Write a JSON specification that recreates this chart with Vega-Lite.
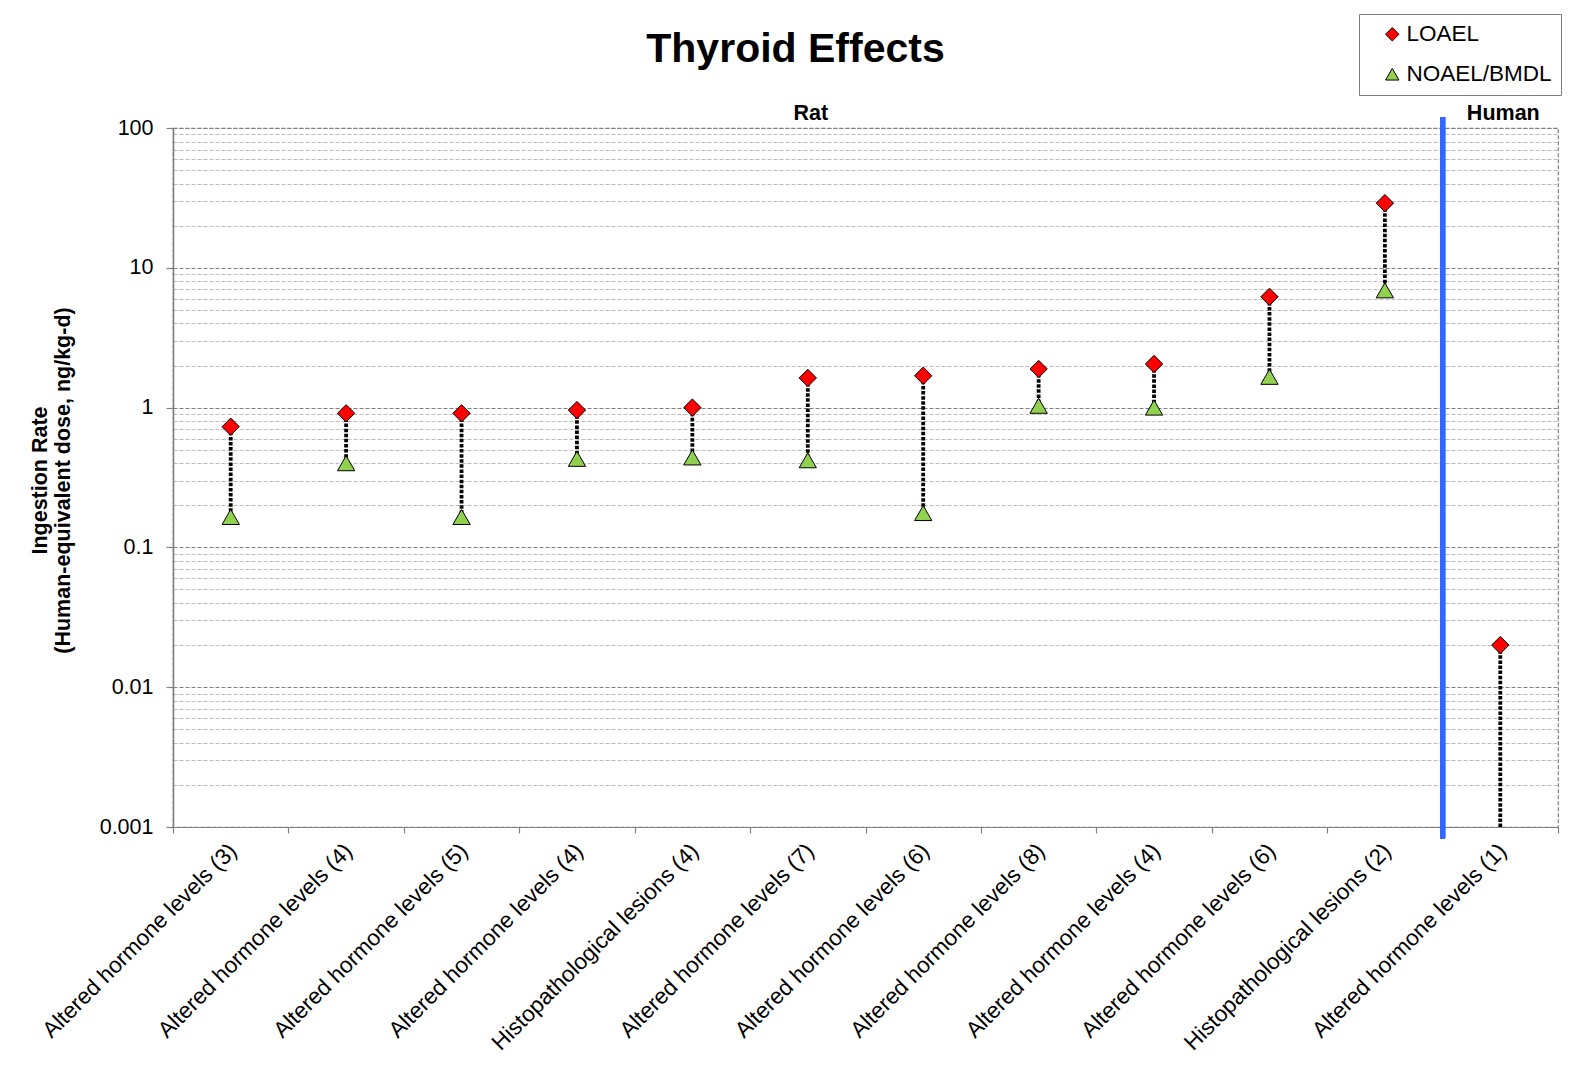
{
  "$schema": "https://vega.github.io/schema/vega-lite/v6.json",
  "width": 1385,
  "height": 699,
  "autosize": {"type": "none"},
  "padding": {"left": 173, "top": 128, "right": 11, "bottom": 265},
  "background": "white",
  "title": {
    "text": "Thyroid Effects",
    "font": "Liberation Sans",
    "fontSize": 41,
    "fontWeight": "bold",
    "color": "black",
    "anchor": "middle",
    "frame": "group",
    "dx": -70,
    "offset": -57
  },
  "datasets": {
    "rows": [
      {"n": 1, "endpoint": "Altered hormone levels (3)", "species": "Rat", "LOAEL": 0.73, "NOAEL/BMDL": 0.165, "lower": 0.165},
      {"n": 2, "endpoint": "Altered hormone levels (4)", "species": "Rat", "LOAEL": 0.91, "NOAEL/BMDL": 0.4, "lower": 0.4},
      {"n": 3, "endpoint": "Altered hormone levels (5)", "species": "Rat", "LOAEL": 0.91, "NOAEL/BMDL": 0.165, "lower": 0.165},
      {"n": 4, "endpoint": "Altered hormone levels (4)", "species": "Rat", "LOAEL": 0.96, "NOAEL/BMDL": 0.43, "lower": 0.43},
      {"n": 5, "endpoint": "Histopathological lesions (4)", "species": "Rat", "LOAEL": 1.0, "NOAEL/BMDL": 0.44, "lower": 0.44},
      {"n": 6, "endpoint": "Altered hormone levels (7)", "species": "Rat", "LOAEL": 1.63, "NOAEL/BMDL": 0.42, "lower": 0.42},
      {"n": 7, "endpoint": "Altered hormone levels (6)", "species": "Rat", "LOAEL": 1.69, "NOAEL/BMDL": 0.176, "lower": 0.176},
      {"n": 8, "endpoint": "Altered hormone levels (8)", "species": "Rat", "LOAEL": 1.89, "NOAEL/BMDL": 1.03, "lower": 1.03},
      {"n": 9, "endpoint": "Altered hormone levels (4)", "species": "Rat", "LOAEL": 2.05, "NOAEL/BMDL": 1.0, "lower": 1.0},
      {"n": 10, "endpoint": "Altered hormone levels (6)", "species": "Rat", "LOAEL": 6.2, "NOAEL/BMDL": 1.66, "lower": 1.66},
      {"n": 11, "endpoint": "Histopathological lesions (2)", "species": "Rat", "LOAEL": 29, "NOAEL/BMDL": 6.9, "lower": 6.9},
      {"n": 12, "endpoint": "Altered hormone levels (1)", "species": "Human", "LOAEL": 0.02, "NOAEL/BMDL": null, "lower": 0.001}
    ]
  },
  "data": {"name": "rows"},
  "encoding": {
    "x": {
      "field": "n",
      "type": "quantitative",
      "scale": {"domain": [0.5, 12.5], "nice": false, "zero": false},
      "axis": {
        "title": null,
        "values": [0.5, 1, 1.5, 2, 2.5, 3, 3.5, 4, 4.5, 5, 5.5, 6, 6.5, 7, 7.5, 8, 8.5, 9, 9.5, 10, 10.5, 11, 11.5, 12, 12.5],
        "labelExpr": "datum.value % 1 == 0 ? data('rows')[datum.value - 1].endpoint : ''",
        "labelAngle": -45,
        "labelAlign": "right",
        "labelBaseline": "middle",
        "labelFlush": false,
        "labelOverlap": false,
        "labelBound": false,
        "labelLimit": 500,
        "labelPadding": 14,
        "labelOffset": 2,
        "labelFont": "Liberation Sans",
        "labelFontSize": 22.5,
        "labelColor": "black",
        "grid": false,
        "domain": false,
        "tickSize": 6,
        "tickColor": "#808080",
        "tickWidth": 1.2,
        "tickOpacity": {"condition": {"test": "datum.value % 1 != 0", "value": 1}, "value": 0}
      }
    },
    "y": {
      "type": "quantitative",
      "scale": {"type": "log", "domain": [0.001, 100], "nice": false},
      "axis": {
        "title": ["Ingestion Rate", "(Human-equivalent  dose, ng/kg-d)"],
        "titleFont": "Liberation Sans",
        "titleFontSize": 21.5,
        "titleFontWeight": "bold",
        "titleColor": "black",
        "titleAngle": 270,
        "titleAlign": "center",
        "titleBaseline": "top",
        "titleLineHeight": 23,
        "titleX": -144,
        "titleY": 352,
        "values": [0.001, 0.002, 0.003, 0.004, 0.005, 0.006, 0.007, 0.008, 0.009,
                   0.01, 0.02, 0.03, 0.04, 0.05, 0.06, 0.07, 0.08, 0.09,
                   0.1, 0.2, 0.3, 0.4, 0.5, 0.6, 0.7, 0.8, 0.9,
                   1, 2, 3, 4, 5, 6, 7, 8, 9,
                   10, 20, 30, 40, 50, 60, 70, 80, 90, 100],
        "format": "~g",
        "labelExpr": "abs(log(datum.value) / LN10 - round(log(datum.value) / LN10)) < 0.001 ? datum.label : ''",
        "labelOverlap": false,
        "labelFont": "Liberation Sans",
        "labelFontSize": 21.5,
        "labelColor": "black",
        "labelPadding": 13,
        "grid": true,
        "gridDash": [4, 2],
        "gridWidth": 1.2,
        "gridColor": {"condition": {"test": "abs(log(datum.value) / LN10 - round(log(datum.value) / LN10)) < 0.001", "value": "#808080"}, "value": "#bdbdbd"},
        "tickSize": 7,
        "tickColor": "#808080",
        "tickWidth": 1.2,
        "tickOpacity": {"condition": {"test": "abs(log(datum.value) / LN10 - round(log(datum.value) / LN10)) < 0.001", "value": 1}, "value": 0},
        "domainColor": "#808080",
        "domainWidth": 1.6
      }
    }
  },
  "layer": [
    {
      "mark": {"type": "rule", "color": "black", "strokeWidth": 3.8, "strokeDash": [3.5, 1.6]},
      "encoding": {
        "y": {"field": "LOAEL"},
        "y2": {"field": "lower"}
      }
    },
    {
      "mark": {"type": "rule", "color": "#3366FF", "strokeWidth": 5},
      "encoding": {
        "x": {"datum": 11.5},
        "y": {"datum": 120},
        "y2": {"datum": 0.00083}
      }
    },
    {
      "transform": [
        {"fold": ["LOAEL", "NOAEL/BMDL"], "as": ["series", "dose"]},
        {"filter": "isValid(datum.dose)"}
      ],
      "mark": {"type": "point", "filled": true, "opacity": 1, "stroke": "black", "strokeWidth": 1, "size": 300},
      "encoding": {
        "y": {"field": "dose"},
        "color": {
          "field": "series",
          "type": "nominal",
          "scale": {"domain": ["LOAEL", "NOAEL/BMDL"], "range": ["#FF0000", "#92D050"]},
          "legend": {
            "title": null,
            "orient": "none",
            "legendX": 1186,
            "legendY": -114,
            "padding": 9,
            "strokeColor": "#7f7f7f",
            "fillColor": "white",
            "symbolSize": 180,
            "symbolOffset": 13,
            "symbolStrokeColor": "black",
            "symbolStrokeWidth": 1,
            "labelFont": "Liberation Sans",
            "labelFontSize": 22.5,
            "labelColor": "black",
            "labelOffset": 3,
            "rowPadding": 17
          }
        },
        "shape": {
          "field": "series",
          "type": "nominal",
          "scale": {"domain": ["LOAEL", "NOAEL/BMDL"], "range": ["diamond", "triangle-up"]},
          "legend": {
            "title": null,
            "orient": "none",
            "legendX": 1186,
            "legendY": -114,
            "padding": 9,
            "strokeColor": "#7f7f7f",
            "fillColor": "white",
            "symbolSize": 180,
            "symbolOffset": 13,
            "symbolStrokeColor": "black",
            "symbolStrokeWidth": 1,
            "labelFont": "Liberation Sans",
            "labelFontSize": 22.5,
            "labelColor": "black",
            "labelOffset": 3,
            "rowPadding": 17
          }
        }
      }
    },
    {
      "transform": [
        {"aggregate": [{"op": "mean", "field": "n", "as": "mid"}], "groupby": ["species"]}
      ],
      "mark": {"type": "text", "font": "Liberation Sans", "fontSize": 21.5, "fontWeight": "bold", "color": "black", "baseline": "alphabetic", "dy": -8, "dx": 3},
      "encoding": {
        "x": {"field": "mid", "type": "quantitative"},
        "y": {"datum": 100},
        "text": {"field": "species"}
      }
    }
  ],
  "config": {
    "font": "Liberation Sans",
    "view": {"stroke": "#808080", "strokeWidth": 1.2, "strokeDash": [4, 2]}
  }
}
